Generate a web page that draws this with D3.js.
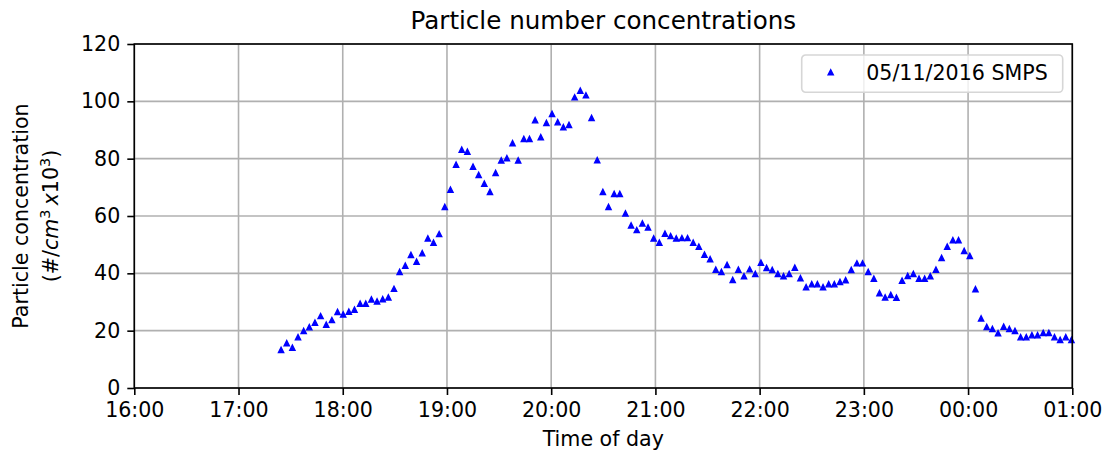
<!DOCTYPE html>
<html>
<head>
<meta charset="utf-8">
<script src="https://cdn.jsdelivr.net/npm/d3@7"></script>
<style>
  body { margin: 0; background: #fff; }
  svg { display: block; font-family: "DejaVu Sans", sans-serif; }
  .tick text { fill: #000; }
</style>
</head>
<body>
<div id="chart"></div>
<script>
// SMPS scan times (clock time, past midnight rolls to the next day)
const times = [
  '17:24:30', '17:27:45', '17:31:00', '17:34:15', '17:37:30', '17:40:45', '17:44:00', '17:47:15',
  '17:50:30', '17:53:45', '17:57:00', '18:00:15', '18:03:30', '18:06:45', '18:10:00', '18:13:15',
  '18:16:30', '18:19:45', '18:23:00', '18:26:15', '18:29:30', '18:32:45', '18:36:00', '18:39:15',
  '18:42:30', '18:45:45', '18:49:00', '18:52:15', '18:55:30', '18:58:45', '19:02:00', '19:05:15',
  '19:08:30', '19:11:45', '19:15:00', '19:18:15', '19:21:30', '19:24:45', '19:28:00', '19:31:15',
  '19:34:30', '19:37:45', '19:41:00', '19:44:15', '19:47:30', '19:50:45', '19:54:00', '19:57:15',
  '20:00:30', '20:03:45', '20:07:00', '20:10:15', '20:13:30', '20:16:45', '20:20:00', '20:23:15',
  '20:26:30', '20:29:45', '20:33:00', '20:36:15', '20:39:30', '20:42:45', '20:46:00', '20:49:15',
  '20:52:30', '20:55:45', '20:59:00', '21:02:15', '21:05:30', '21:08:45', '21:12:00', '21:15:15',
  '21:18:30', '21:21:45', '21:25:00', '21:28:15', '21:31:30', '21:34:45', '21:38:00', '21:41:15',
  '21:44:30', '21:47:45', '21:51:00', '21:54:15', '21:57:30', '22:00:45', '22:04:00', '22:07:15',
  '22:10:30', '22:13:45', '22:17:00', '22:20:15', '22:23:30', '22:26:45', '22:30:00', '22:33:15',
  '22:36:30', '22:39:45', '22:43:00', '22:46:15', '22:49:30', '22:52:45', '22:56:00', '22:59:15',
  '23:02:30', '23:05:45', '23:09:00', '23:12:15', '23:15:30', '23:18:45', '23:22:00', '23:25:15',
  '23:28:30', '23:31:45', '23:35:00', '23:38:15', '23:41:30', '23:44:45', '23:48:00', '23:51:15',
  '23:54:30', '23:57:45', '00:01:00', '00:04:15', '00:07:30', '00:10:45', '00:14:00', '00:17:15',
  '00:20:30', '00:23:45', '00:27:00', '00:30:15', '00:33:30', '00:36:45', '00:40:00', '00:43:15',
  '00:46:30', '00:49:45', '00:53:00', '00:56:15', '00:59:30'
];

// particle number concentration, #/cm3 x10^3
const concentration = [
  13.3, 15.6, 14.1, 17.7, 19.9, 21.2, 22.8, 25.1, 22.1, 23.7,
  26.5, 25.7, 26.6, 27.3, 29.4, 29.4, 30.9, 30.2, 31.0, 31.6,
  34.6, 40.5, 42.7, 46.4, 44.1, 47.0, 52.2, 50.7, 53.7, 63.2,
  69.2, 77.9, 83.1, 82.4, 77.2, 74.3, 71.3, 68.4, 75.0, 79.4,
  80.2, 85.4, 79.4, 86.9, 86.9, 93.4, 87.5, 92.5, 95.6, 92.7,
  91.0, 91.8, 101.4, 103.7, 102.1, 94.2, 79.5, 68.4, 63.2, 67.7,
  67.7, 60.9, 56.7, 55.1, 57.4, 56.0, 52.2, 50.7, 53.8, 53.0,
  52.2, 52.3, 52.3, 50.7, 49.3, 46.5, 44.9, 41.3, 40.5, 42.9,
  37.7, 41.3, 39.0, 41.4, 39.8, 43.7, 41.9, 41.2, 39.8, 39.0,
  39.8, 42.0, 38.3, 35.2, 36.2, 36.2, 35.2, 36.2, 36.2, 37.0,
  37.6, 41.2, 43.5, 43.5, 40.5, 38.1, 33.1, 31.6, 32.5, 31.5,
  37.4, 39.1, 39.8, 38.1, 38.1, 39.0, 41.3, 45.4, 49.3, 51.6,
  51.6, 47.8, 46.1, 34.5, 24.3, 21.3, 20.6, 19.1, 21.4, 20.6,
  19.9, 17.7, 17.7, 18.4, 18.4, 19.2, 19.2, 17.7, 16.8, 17.7,
  16.8
];

const yTicks = [0, 20, 40, 60, 80, 100, 120];
const seriesLabel = '05/11/2016 SMPS';
const chartTitle = 'Particle number concentrations';
const xLabel = 'Time of day';

const width = 1104;
const height = 454;
const margin = { top: 44, right: 31.7, bottom: 66, left: 134.3 };
const innerW = width - margin.left - margin.right;
const innerH = height - margin.top - margin.bottom;
const fontSize = 20.6;
const lw = 1.6;

const toDate = t => {
  const [h, m, s] = t.split(':').map(Number);
  return new Date(2016, 10, h < 12 ? 6 : 5, h, m, s);
};

const data = times.map((t, i) => ({ t: toDate(t), v: concentration[i] }));

const x = d3.scaleTime()
  .domain([new Date(2016, 10, 5, 16), new Date(2016, 10, 6, 1)])
  .range([0, innerW]);

const y = d3.scaleLinear()
  .domain([0, 120])
  .range([innerH, 0]);

const svg = d3.select('#chart')
  .append('svg')
  .attr('width', width)
  .attr('height', height);

const g = svg.append('g')
  .attr('transform', `translate(${margin.left},${margin.top})`);

const xTicks = x.ticks(d3.timeHour.every(1));

// grid
g.append('g')
  .selectAll('line')
  .data(xTicks)
  .enter()
  .append('line')
  .attr('x1', d => x(d))
  .attr('x2', d => x(d))
  .attr('y1', 0)
  .attr('y2', innerH)
  .attr('stroke', '#b0b0b0')
  .attr('stroke-width', lw);

g.append('g')
  .selectAll('line')
  .data(yTicks)
  .enter()
  .append('line')
  .attr('x1', 0)
  .attr('x2', innerW)
  .attr('y1', d => y(d))
  .attr('y2', d => y(d))
  .attr('stroke', '#b0b0b0')
  .attr('stroke-width', lw);

// markers
const tri = s => `M0,${-s / 2}L${-s / 2},${s / 2}L${s / 2},${s / 2}Z`;

g.append('g')
  .selectAll('path')
  .data(data)
  .enter()
  .append('path')
  .attr('d', tri(5.2))
  .attr('transform', d => `translate(${x(d.t)},${y(d.v)})`)
  .attr('fill', '#0000ff')
  .attr('stroke', '#0000ff')
  .attr('stroke-width', 1.4)
  .attr('stroke-linejoin', 'miter');

// axes
const xAxis = g.append('g')
  .attr('transform', `translate(0,${innerH})`)
  .call(d3.axisBottom(x)
    .tickValues(xTicks)
    .tickFormat(d3.timeFormat('%H:%M'))
    .tickSize(7)
    .tickPadding(7));

const yAxis = g.append('g')
  .call(d3.axisLeft(y)
    .tickValues(yTicks)
    .tickSize(7)
    .tickPadding(7));

[xAxis, yAxis].forEach(a => {
  a.select('.domain').remove();
  a.selectAll('.tick line').attr('stroke', '#000').attr('stroke-width', lw);
  a.selectAll('.tick text')
    .attr('font-size', fontSize)
    .attr('font-family', '"DejaVu Sans", sans-serif');
});

// frame
g.append('rect')
  .attr('width', innerW)
  .attr('height', innerH)
  .attr('fill', 'none')
  .attr('stroke', '#000')
  .attr('stroke-width', lw);

// title and labels
svg.append('text')
  .attr('x', margin.left + innerW / 2)
  .attr('y', 29)
  .attr('text-anchor', 'middle')
  .attr('font-size', 24.6)
  .text(chartTitle);

svg.append('text')
  .attr('x', margin.left + innerW / 2)
  .attr('y', 446)
  .attr('text-anchor', 'middle')
  .attr('font-size', fontSize)
  .text(xLabel);

const yMid = margin.top + innerH / 2;
svg.append('text')
  .attr('transform', `translate(27.5,${yMid}) rotate(-90)`)
  .attr('text-anchor', 'middle')
  .attr('font-size', fontSize)
  .text('Particle concentration');

const unit = svg.append('text')
  .attr('transform', `translate(58,${yMid}) rotate(-90)`)
  .attr('text-anchor', 'middle')
  .attr('font-size', fontSize);
unit.append('tspan').text('(#/');
unit.append('tspan').attr('font-style', 'italic').text('cm');
unit.append('tspan').attr('font-size', fontSize * 0.7).attr('dy', -8).text('3');
unit.append('tspan').attr('dy', 8).text('\u2009');
unit.append('tspan').attr('font-style', 'italic').text('x');
unit.append('tspan').text('10');
unit.append('tspan').attr('font-size', fontSize * 0.7).attr('dy', -8).text('3');
unit.append('tspan').attr('dy', 8).text(')');

// legend
const legend = svg.append('g')
  .attr('transform', 'translate(801.7,55)');

legend.append('rect')
  .attr('width', 261)
  .attr('height', 37.3)
  .attr('rx', 4)
  .attr('fill', 'rgba(255,255,255,0.8)')
  .attr('stroke', '#d6d6d6')
  .attr('stroke-width', 1.6);

legend.append('path')
  .attr('d', tri(5.2))
  .attr('transform', 'translate(29,17.3)')
  .attr('fill', '#0000ff')
  .attr('stroke', '#0000ff')
  .attr('stroke-width', 1.4);

legend.append('text')
  .attr('x', 64.5)
  .attr('y', 25)
  .attr('font-size', fontSize)
  .attr('fill', '#000')
  .text(seriesLabel);
</script>
</body>
</html>
